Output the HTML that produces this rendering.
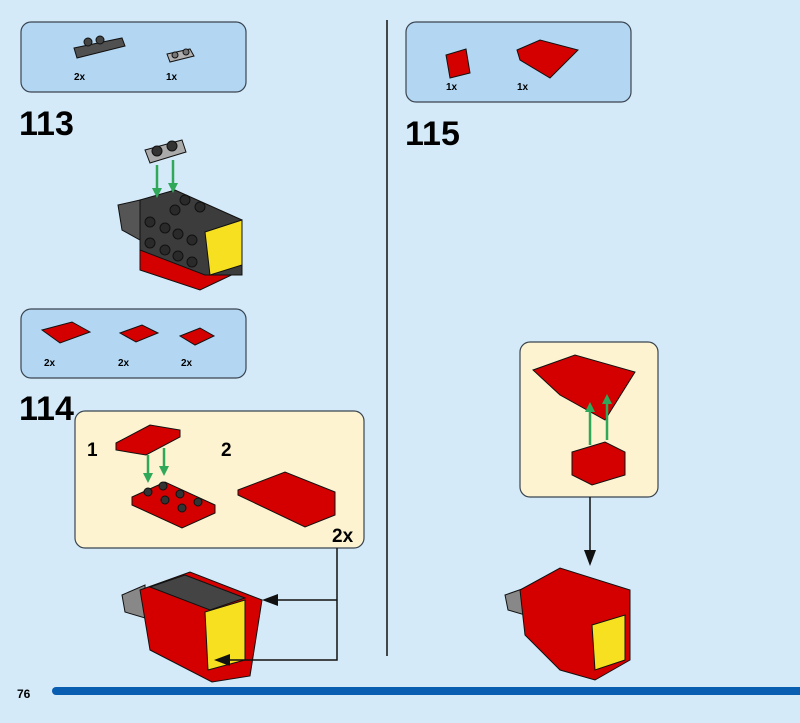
<!DOCTYPE html>
<html><head><meta charset="utf-8"><style>
body{margin:0;width:800px;height:718px;background:#d5eaf9;overflow:hidden;font-family:"Liberation Sans",sans-serif}
</style></head><body>
<svg width="800" height="718" viewBox="0 0 800 718" xmlns="http://www.w3.org/2000/svg" font-family="Liberation Sans, sans-serif">
<rect width="800" height="718" fill="#d5eaf9"/>
<line x1="387" y1="20" x2="387" y2="656" stroke="#111" stroke-width="1.5"/>
<rect x="21" y="22" width="225" height="70" rx="10" fill="#b3d6f2" stroke="#3a4550" stroke-width="1.2"/>
<polygon points="74,48 122,38 125,46 77,58" fill="#505050" stroke="#111"/>
<circle cx="88" cy="42" r="4" fill="#444" stroke="#111"/><circle cx="100" cy="40" r="4" fill="#444" stroke="#111"/>
<polygon points="167,54 190,49 194,56 170,62" fill="#b0b0b0" stroke="#111"/>
<circle cx="175" cy="55" r="3" fill="#777" stroke="#111"/><circle cx="186" cy="52" r="3" fill="#777" stroke="#111"/>
<text x="74" y="80" font-size="10" font-weight="bold">2x</text>
<text x="166" y="80" font-size="10" font-weight="bold">1x</text>
<text x="19" y="135" font-size="34" font-weight="bold">113</text>
<polygon points="145,150 182,140 186,152 150,163" fill="#aaa" stroke="#111"/>
<circle cx="157" cy="151" r="5" fill="#333" stroke="#111"/><circle cx="172" cy="146" r="5" fill="#333" stroke="#111"/>
<polygon points="140,270 200,290 242,270 242,250 140,245" fill="#d40000" stroke="#111"/>
<polygon points="118,205 140,200 140,240 122,230" fill="#555" stroke="#111"/>
<polygon points="140,200 175,190 242,220 242,275 205,275 140,250" fill="#3c3c3c" stroke="#111"/>
<polygon points="205,232 242,220 242,265 210,275" fill="#f7e020" stroke="#111"/>
<g fill="#2a2a2a" stroke="#111"><circle cx="150" cy="222" r="5"/><circle cx="165" cy="228" r="5"/><circle cx="178" cy="234" r="5"/><circle cx="192" cy="240" r="5"/><circle cx="150" cy="243" r="5"/><circle cx="165" cy="250" r="5"/><circle cx="178" cy="256" r="5"/><circle cx="192" cy="262" r="5"/><circle cx="185" cy="200" r="5"/><circle cx="200" cy="207" r="5"/><circle cx="175" cy="210" r="5"/></g>
<g stroke="#2fa85a" stroke-width="2.5" fill="#2fa85a"><line x1="157" y1="165" x2="157" y2="190"/><line x1="173" y1="160" x2="173" y2="185"/><polygon points="152,188 162,188 157,198" stroke="none"/><polygon points="168,183 178,183 173,193" stroke="none"/></g>
<rect x="21" y="309" width="225" height="69" rx="10" fill="#b3d6f2" stroke="#3a4550" stroke-width="1.2"/>
<polygon points="42,330 72,322 90,332 60,343" fill="#d40000" stroke="#111"/>
<polygon points="120,333 142,325 158,333 136,342" fill="#d40000" stroke="#111"/>
<polygon points="180,336 200,328 214,336 195,345" fill="#d40000" stroke="#111"/>
<text x="44" y="366" font-size="10" font-weight="bold">2x</text>
<text x="118" y="366" font-size="10" font-weight="bold">2x</text>
<text x="181" y="366" font-size="10" font-weight="bold">2x</text>
<text x="19" y="420" font-size="34" font-weight="bold">114</text>
<rect x="75" y="411" width="289" height="137" rx="10" fill="#fdf3d0" stroke="#3a4550" stroke-width="1.2"/>
<text x="87" y="456" font-size="19" font-weight="bold">1</text>
<text x="221" y="456" font-size="19" font-weight="bold">2</text>
<text x="332" y="542" font-size="19" font-weight="bold">2x</text>
<polygon points="116,443 150,425 180,430 180,437 146,455 116,450" fill="#d40000" stroke="#111"/>
<polygon points="132,497 165,482 215,505 215,513 182,528 132,505" fill="#d40000" stroke="#111"/>
<g fill="#333" stroke="#111"><circle cx="148" cy="492" r="4"/><circle cx="163" cy="486" r="4"/><circle cx="165" cy="500" r="4"/><circle cx="180" cy="494" r="4"/><circle cx="182" cy="508" r="4"/><circle cx="198" cy="502" r="4"/></g>
<g stroke="#2fa85a" stroke-width="2.5" fill="#2fa85a"><line x1="148" y1="455" x2="148" y2="475"/><line x1="164" y1="448" x2="164" y2="468"/><polygon points="143,473 153,473 148,483" stroke="none"/><polygon points="159,466 169,466 164,476" stroke="none"/></g>
<polygon points="238,490 285,472 335,492 335,515 305,527 238,495" fill="#d40000" stroke="#111"/>
<polygon points="122,595 145,585 145,618 125,612" fill="#888" stroke="#111"/>
<polygon points="140,590 190,572 262,600 250,676 212,682 150,650" fill="#d40000" stroke="#111"/>
<polygon points="150,587 185,575 245,598 210,610" fill="#444" stroke="#111"/>
<polygon points="205,612 245,600 245,660 208,670" fill="#f7e020" stroke="#111"/>
<g stroke="#111" stroke-width="1.5" fill="none"><polyline points="337,548 337,660 225,660"/><line x1="337" y1="600" x2="272" y2="600"/></g>
<polygon points="262,600 278,594 278,606" fill="#111"/><polygon points="214,660 230,654 230,666" fill="#111"/>
<rect x="406" y="22" width="225" height="80" rx="10" fill="#b3d6f2" stroke="#3a4550" stroke-width="1.2"/>
<polygon points="446,55 466,49 470,73 450,78" fill="#d40000" stroke="#111"/>
<polygon points="517,50 540,40 578,50 550,78 520,60" fill="#d40000" stroke="#111"/>
<text x="446" y="90" font-size="10" font-weight="bold">1x</text>
<text x="517" y="90" font-size="10" font-weight="bold">1x</text>
<text x="405" y="145" font-size="34" font-weight="bold">115</text>
<rect x="520" y="342" width="138" height="155" rx="10" fill="#fdf3d0" stroke="#3a4550" stroke-width="1.2"/>
<polygon points="533,370 575,355 635,372 605,420 560,395" fill="#d40000" stroke="#111"/>
<polygon points="572,452 605,442 625,452 625,475 592,485 572,475" fill="#d40000" stroke="#111"/>
<g stroke="#2fa85a" stroke-width="2.5" fill="#2fa85a"><line x1="590" y1="445" x2="590" y2="410"/><line x1="607" y1="440" x2="607" y2="402"/><polygon points="585,412 595,412 590,402" stroke="none"/><polygon points="602,404 612,404 607,394" stroke="none"/></g>
<line x1="590" y1="497" x2="590" y2="555" stroke="#111" stroke-width="1.5"/>
<polygon points="590,566 584,550 596,550" fill="#111"/>
<polygon points="505,595 525,588 525,615 508,610" fill="#888" stroke="#111"/>
<polygon points="520,590 560,568 630,590 630,660 595,680 560,670 525,635" fill="#d40000" stroke="#111"/>
<polygon points="592,625 625,615 625,660 595,670" fill="#f7e020" stroke="#111"/>
<text x="17" y="698" font-size="12" font-weight="bold">76</text>
<line x1="56" y1="691" x2="810" y2="691" stroke="#0a5eb1" stroke-width="8" stroke-linecap="round"/>
</svg>
</body></html>
